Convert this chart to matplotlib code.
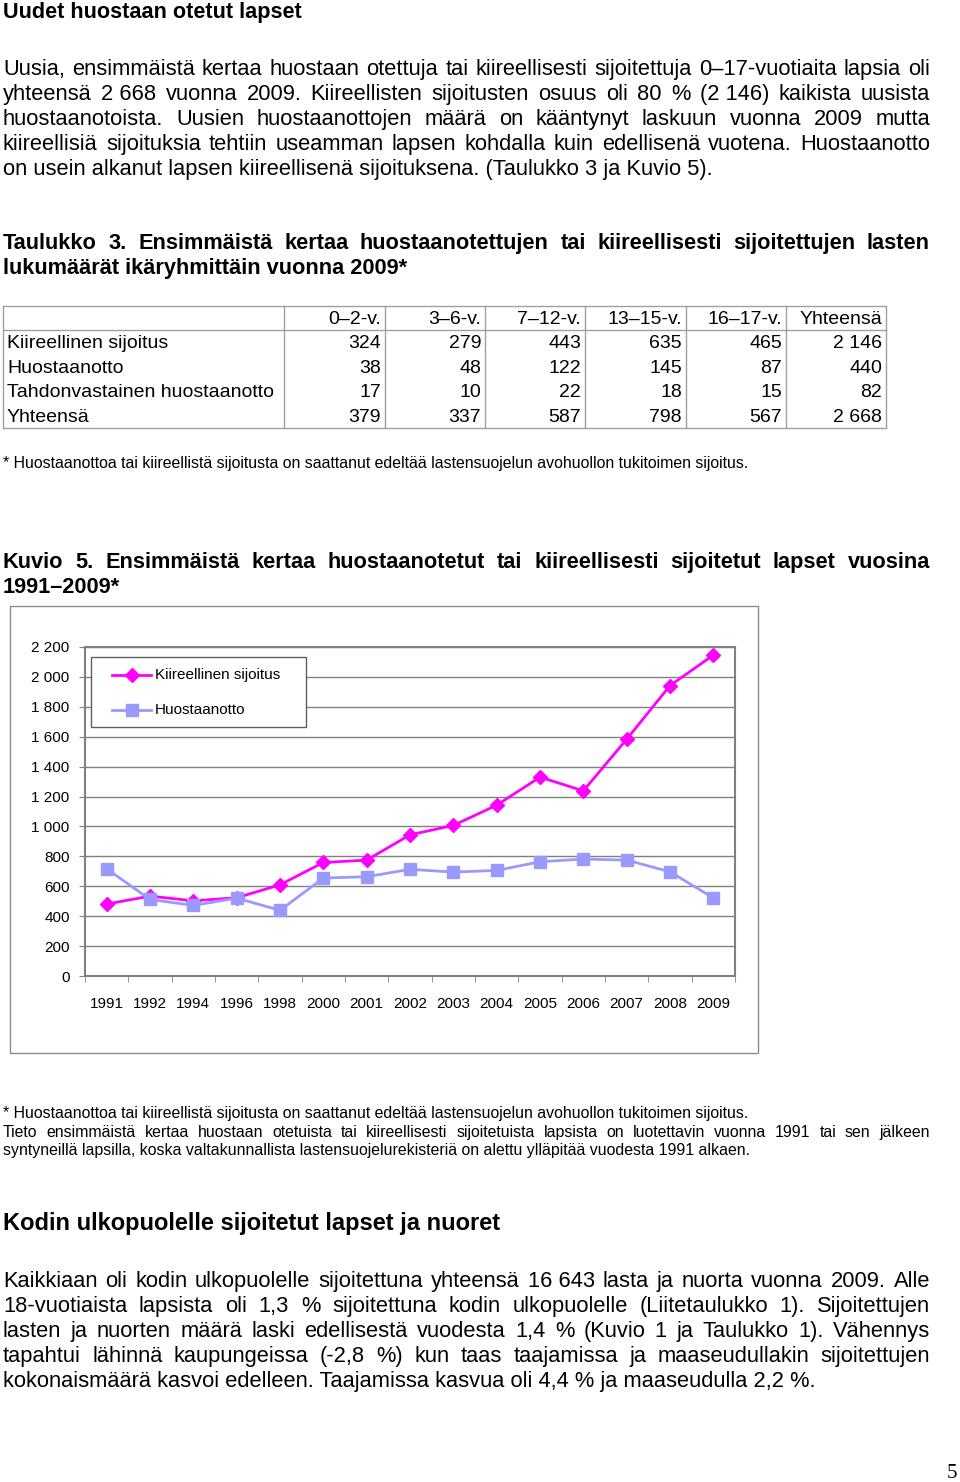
import matplotlib
matplotlib.use("Agg")
import matplotlib.pyplot as plt
from matplotlib.lines import Line2D
from matplotlib.patches import Rectangle

plt.rcParams['font.family'] = ['Liberation Sans', 'DejaVu Sans']

# --- data ---
years = ['1991', '1992', '1994', '1996', '1998', '2000', '2001', '2002',
         '2003', '2004', '2005', '2006', '2007', '2008', '2009']
kiireellinen = [481, 534, 503, 523, 610, 759, 775, 944, 1007, 1142, 1330, 1238, 1583, 1942, 2146]
huostaanotto = [717, 512, 472, 521, 439, 655, 664, 713, 695, 706, 764, 782, 775, 697, 522]
y_ticks = [0, 200, 400, 600, 800, 1000, 1200, 1400, 1600, 1800, 2000, 2200]

age_groups = ['0–2-v.', '3–6-v.', '7–12-v.', '13–15-v.', '16–17-v.', 'Yhteensä']
row_labels = ['Kiireellinen sijoitus', 'Huostaanotto', 'Tahdonvastainen huostaanotto', 'Yhteensä']
kiir_row = [324, 279, 443, 635, 465, 2146]
huos_row = [38, 48, 122, 145, 87, 440]
tahd_row = [17, 10, 22, 18, 15, 82]
yht_row = [379, 337, 587, 798, 567, 2668]
table_rows = [kiir_row, huos_row, tahd_row, yht_row]

W, H = 960, 1482
fig = plt.figure(figsize=(W / 100, H / 100), dpi=100)
r = fig.canvas.get_renderer()
NB = '\u00a0'
BODY = 15.75
NOTE = 11.4


def px(x):
    return x / W


def py(y):
    return 1 - y / H


def fmt(v):
    return f"{v:,}".replace(',', ' ')


def line(s, x0, y, size=BODY, weight='normal', x1=None, **kw):
    if x1 is None:
        fig.text(px(x0), py(y), s.replace('~', NB), fontsize=size, fontweight=weight,
                 va='baseline', **kw)
        return
    words = s.split(' ')
    ts = [fig.text(0, py(y), w.replace('~', NB), fontsize=size, fontweight=weight,
                   va='baseline', **kw) for w in words]
    widths = [t.get_window_extent(r).width for t in ts]
    gap = (x1 - x0 - sum(widths)) / (len(words) - 1)
    x = x0
    for t, w in zip(ts, widths):
        t.set_x(px(x))
        x += w + gap


def hline(x0, x1, y, c='#a0a0a0', lw=1):
    fig.add_artist(Line2D([px(x0), px(x1)], [py(y), py(y)], color=c, lw=lw,
                          transform=fig.transFigure))


def vline(x, y0, y1, c='#a0a0a0', lw=1):
    fig.add_artist(Line2D([px(x), px(x)], [py(y0), py(y1)], color=c, lw=lw,
                          transform=fig.transFigure))


R = 930
# heading + paragraph
line('Uudet huostaan otetut lapset', 3, 18, 15.6, 'bold')
p1 = ['Uusia, ensimmäistä kertaa huostaan otettuja tai kiireellisesti sijoitettuja 0–17-vuotiaita lapsia oli',
      'yhteensä 2~668 vuonna 2009. Kiireellisten sijoitusten osuus oli 80 % (2~146) kaikista uusista',
      'huostaanotoista. Uusien huostaanottojen määrä on kääntynyt laskuun vuonna 2009 mutta',
      'kiireellisiä sijoituksia tehtiin useamman lapsen kohdalla kuin edellisenä vuotena. Huostaanotto']
for i, s in enumerate(p1):
    line(s, 3, 75 + 25 * i, x1=R)
line('on usein alkanut lapsen kiireellisenä sijoituksena. (Taulukko 3 ja Kuvio 5).', 3, 175)

# table caption
line('Taulukko 3. Ensimmäistä kertaa huostaanotettujen tai kiireellisesti sijoitettujen lasten',
     3, 249, 15.7, 'bold', x1=R)
line('lukumäärät ikäryhmittäin vuonna 2009*', 3, 274, 15.7, 'bold')

# table
col_edges = [3, 284, 385, 485, 585, 686, 786, 886]
row_top, head_bot, row_bot = 306, 330, 428
for x in col_edges:
    vline(x, row_top, row_bot)
for y in (row_top, head_bot, row_bot):
    hline(col_edges[0], col_edges[-1], y)
for j, g in enumerate(age_groups):
    fig.text(px(col_edges[j + 2] - 4), py(324), g, fontsize=14, ha='right', va='baseline')
for i, (lab, vals) in enumerate(zip(row_labels, table_rows)):
    yb = 348 + 24.6 * i
    fig.text(px(7), py(yb), lab, fontsize=14, va='baseline')
    for j, v in enumerate(vals):
        fig.text(px(col_edges[j + 2] - 4), py(yb), fmt(v), fontsize=14, ha='right', va='baseline')

note = '* Huostaanottoa tai kiireellistä sijoitusta on saattanut edeltää lastensuojelun avohuollon tukitoimen sijoitus.'
line(note, 3, 468, NOTE)

# figure caption
line('Kuvio 5. Ensimmäistä kertaa huostaanotetut tai kiireellisesti sijoitetut lapset vuosina',
     3, 568, 15.7, 'bold', x1=R)
line('1991–2009*', 3, 593, 15.7, 'bold')

# chart frame
fig.add_artist(Rectangle((px(10), py(1053)), px(758) - px(10), py(606) - py(1053),
                         transform=fig.transFigure, fill=False, ec='#8c8c8c', lw=1))

ax = fig.add_axes([px(85), py(976), px(735) - px(85), py(647) - py(976)])
x = range(len(years))
ax.plot(x, kiireellinen, color='#ff00ff', lw=2, marker='D', ms=7.5, label='Kiireellinen sijoitus')
ax.plot(x, huostaanotto, color='#9999ff', lw=2, marker='s', ms=8, label='Huostaanotto')
ax.set_xlim(-0.5, len(years) - 0.5)
ax.set_ylim(0, 2200)
ax.set_yticks(y_ticks)
ax.set_yticklabels([fmt(v) for v in y_ticks], fontsize=11)
ax.set_xticks(list(x))
ax.set_xticklabels(years, fontsize=11)
ax.set_xticks([i - 0.5 for i in range(len(years) + 1)], minor=True)
ax.tick_params(axis='x', which='major', length=0, pad=15)
ax.tick_params(axis='x', which='minor', length=4, color='#808080', direction='out')
ax.tick_params(axis='y', length=4, color='#808080', pad=7)
ax.grid(axis='y', color='#808080', lw=1)
ax.set_axisbelow(True)
for s in ax.spines.values():
    s.set_color('#808080')
    s.set_linewidth(1.5)

# legend
fig.add_artist(Rectangle((px(91), py(727)), px(306) - px(91), py(657) - py(727),
                         transform=fig.transFigure, fc='white', ec='#606060', lw=1, zorder=5))
for yy, lab, c, m in [(675, 'Kiireellinen sijoitus', '#ff00ff', 'D'), (710, 'Huostaanotto', '#9999ff', 's')]:
    fig.add_artist(Line2D([px(112), px(151)], [py(yy), py(yy)], color=c, lw=2,
                          transform=fig.transFigure, zorder=6))
    fig.add_artist(Line2D([px(131.5)], [py(yy)], color=c, marker=m, ms=7 if m == 'D' else 8,
                          transform=fig.transFigure, zorder=6))
    fig.text(px(155), py(yy), lab, fontsize=11, va='center', zorder=7)

# notes under chart
line(note, 3, 1118, NOTE)
line('Tieto ensimmäistä kertaa huostaan otetuista tai kiireellisesti sijoitetuista lapsista on luotettavin vuonna 1991 tai sen jälkeen',
     3, 1137, NOTE, x1=R)
line('syntyneillä lapsilla, koska valtakunnallista lastensuojelurekisteriä on alettu ylläpitää vuodesta 1991 alkaen.',
     3, 1155, NOTE)

# second section
line('Kodin ulkopuolelle sijoitetut lapset ja nuoret', 3, 1230, 17, 'bold')
p2 = ['Kaikkiaan oli kodin ulkopuolelle sijoitettuna yhteensä 16~643 lasta ja nuorta vuonna 2009. Alle',
      '18-vuotiaista lapsista oli 1,3 % sijoitettuna kodin ulkopuolelle (Liitetaulukko 1). Sijoitettujen',
      'lasten ja nuorten määrä laski edellisestä vuodesta 1,4 % (Kuvio 1 ja Taulukko 1). Vähennys',
      'tapahtui lähinnä kaupungeissa (-2,8 %) kun taas taajamissa ja maaseudullakin sijoitettujen']
for i, s in enumerate(p2):
    line(s, 3, 1287 + 25 * i, x1=R)
line('kokonaismäärä kasvoi edelleen. Taajamissa kasvua oli 4,4 % ja maaseudulla 2,2 %.', 3, 1387)

fig.text(px(952), py(1478), '5', fontsize=15, family='Liberation Serif', ha='center', va='baseline')

fig.savefig('out.png', dpi=100)
